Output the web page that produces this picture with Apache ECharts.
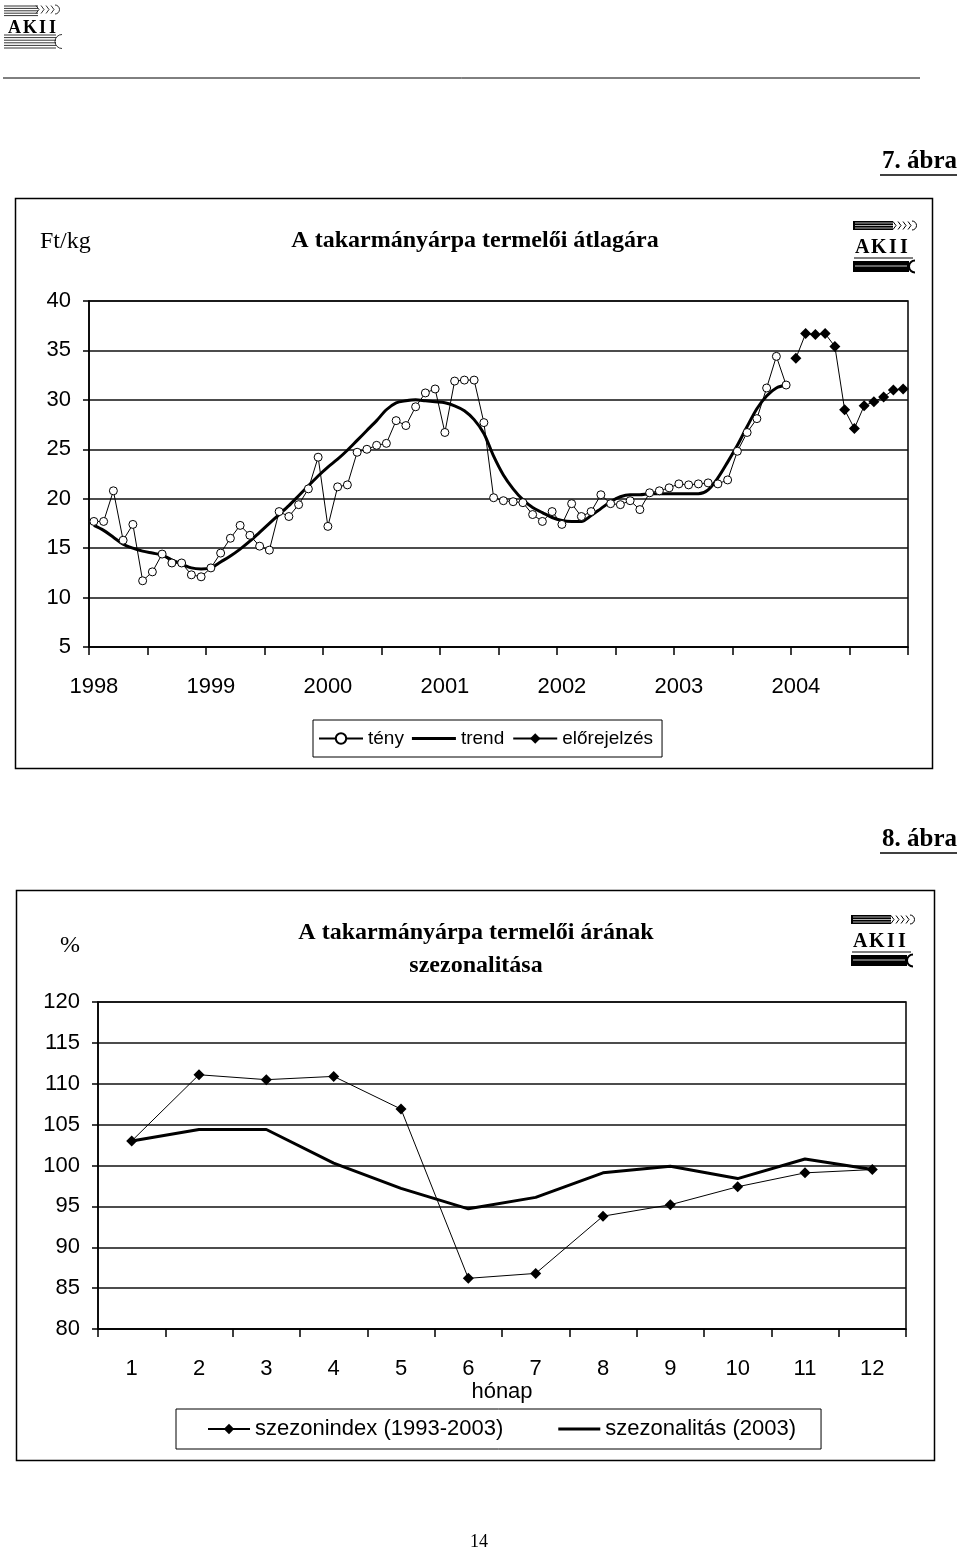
<!DOCTYPE html>
<html><head><meta charset="utf-8">
<script src="https://cdn.jsdelivr.net/npm/echarts@6/dist/echarts.min.js"></script>
<style>html,body{margin:0;padding:0;background:#fff}#c{width:960px;height:1551px}</style>
</head><body><div id="c"></div>
<script>
// ---- Chart 1 data (Ft/kg, monthly 1998-2004) ----
const years = ['1998','1999','2000','2001','2002','2003','2004'];
const teny = [17.7,17.7,20.8,15.8,17.4,11.7,12.6,14.4,13.5,13.5,12.3,12.1,
              13.0,14.5,16.0,17.3,16.3,15.2,14.8,18.7,18.2,19.4,21.0,24.2,
              17.2,21.2,21.4,24.7,25.0,25.4,25.6,27.9,27.4,29.3,30.7,31.1,
              26.7,31.9,32.0,32.0,27.7,20.1,19.8,19.7,19.6,18.4,17.7,18.7,
              17.4,19.5,18.2,18.7,20.4,19.5,19.4,19.8,18.9,20.6,20.8,21.1,
              21.5,21.4,21.5,21.6,21.5,21.9,24.8,26.7,28.1,31.2,34.4,31.5];
const trend = [17.3,16.8,16.1,15.4,15.0,14.7,14.5,14.3,13.8,13.4,13.0,12.9,
               13.0,13.6,14.2,14.9,15.7,16.6,17.5,18.4,19.3,20.3,21.3,22.3,
               23.2,24.0,24.9,25.9,26.9,27.9,29.0,29.7,29.9,30.0,29.9,29.8,
               29.7,29.4,28.9,28.0,26.6,24.3,22.4,21.0,19.9,19.1,18.6,18.1,
               17.8,17.7,17.7,18.3,19.0,19.7,20.2,20.4,20.4,20.5,20.5,20.5,
               20.5,20.5,20.5,20.9,22.1,23.7,25.4,27.3,29.1,30.4,31.2,31.5];
const elorejelzes = [34.2,36.7,36.6,36.7,35.4,29.0,27.1,29.4,29.8,30.3,31.0,31.1];

// ---- Chart 2 data (% , months) ----
const honapok = ['1','2','3','4','5','6','7','8','9','10','11','12'];
const szezonindex = [103.0,111.1,110.5,110.9,106.9,86.2,86.8,93.8,95.2,97.4,99.1,99.5];
const szezonalitas = [103.0,104.4,104.4,100.3,97.2,94.7,96.1,99.1,99.9,98.4,100.8,99.5];

const months = [];
years.forEach(y => { for (let m = 1; m <= 12; m++) months.push(y + '.' + String(m).padStart(2, '0')); });
const pad = (arr, before, total) => new Array(before).fill('-').concat(arr).concat(new Array(total - before - arr.length).fill('-'));
const tenyData = pad(teny, 0, months.length);
const trendData = pad(trend, 0, months.length);
const eloData = pad(elorejelzes, months.length - elorejelzes.length, months.length);

const SANS = '"Liberation Sans", Arial, sans-serif';
const SERIF = '"Liberation Serif", "Times New Roman", serif';
const BLK = '#000';
const THICK_ICON = 'path://M0,0H44V3.2H0Z';

function logo(x, y, dark) {
  const els = [];
  const lw = dark ? 1 : 0.8;
  if (dark) {
    els.push({type:'rect', shape:{x:x, y:y+1, width:40, height:9}, style:{fill:BLK}});
    for (let k = 0; k < 3; k++) els.push({type:'line', shape:{x1:x+2, y1:y+3+k*2.5, x2:x+40, y2:y+3+k*2.5}, style:{stroke:'#fff', lineWidth:0.7}});
  } else {
    for (let k = 0; k < 5; k++) els.push({type:'line', shape:{x1:x, y1:y+2+k*2.4, x2:x+34, y2:y+2+k*2.4}, style:{stroke:BLK, lineWidth:lw}});
  }
  for (let k = 0; k < 4; k++) els.push({type:'polyline', shape:{points:[[x+(dark?40:32)+k*5, y+1.5],[x+(dark?43:35)+k*5, y+5.5],[x+(dark?40:32)+k*5, y+9.5]]}, style:{stroke:BLK, fill:null, lineWidth:lw}});
  els.push({type:'arc', shape:{cx:x+(dark?59:51), cy:y+5.5, r:4.5, startAngle:-Math.PI/2, endAngle:Math.PI/2, clockwise:true}, style:{stroke:BLK, fill:null, lineWidth:lw}});
  const fs = dark ? 20 : 18;
  const ty = dark ? y+28 : y+24;
  const letters = ['A','K','I','I'];
  const offs = dark ? [2,18,36,47] : [4,19,35,45];
  letters.forEach((l, i) => els.push({type:'text', style:{text:l, x:x+offs[i], y:ty, font:'bold '+fs+'px '+SERIF, fill:BLK, textVerticalAlign:'middle'}}));
  if (dark) {
    els.push({type:'line', shape:{x1:x+1, y1:y+38, x2:x+60, y2:y+38}, style:{stroke:BLK, lineWidth:1.2}});
    els.push({type:'rect', shape:{x:x, y:y+41, width:56, height:11}, style:{fill:BLK}});
    els.push({type:'line', shape:{x1:x+2, y1:y+46, x2:x+54, y2:y+46}, style:{stroke:'#fff', lineWidth:0.8}});
    els.push({type:'arc', shape:{cx:x+62, cy:y+46.5, r:6, startAngle:Math.PI/2, endAngle:Math.PI*1.5, clockwise:true}, style:{stroke:BLK, fill:null, lineWidth:2}});
  } else {
    for (let k = 0; k < 6; k++) els.push({type:'line', shape:{x1:x, y1:y+31+k*2.6, x2:x+52, y2:y+31+k*2.6}, style:{stroke:BLK, lineWidth:lw}});
    els.push({type:'arc', shape:{cx:x+58, cy:y+37.5, r:7, startAngle:Math.PI/2, endAngle:Math.PI*1.5, clockwise:true}, style:{stroke:BLK, fill:null, lineWidth:lw}});
  }
  return els;
}

const graphics = [].concat(
  logo(4, 4, false),
  [{type:'line', shape:{x1:3, y1:78, x2:920, y2:78}, style:{stroke:BLK, lineWidth:1}}],
  [{type:'text', style:{text:'7. ábra', x:957, y:162, font:'bold 25px '+SERIF, fill:BLK, textAlign:'right', textVerticalAlign:'middle'}},
   {type:'line', shape:{x1:880, y1:175, x2:957, y2:175}, style:{stroke:BLK, lineWidth:1.5}},
   {type:'rect', shape:{x:15.5, y:198.5, width:917, height:570}, style:{fill:'rgba(0,0,0,0)', stroke:BLK, lineWidth:1.5}},
   {type:'text', style:{text:'Ft/kg', x:40, y:242, font:'24px '+SERIF, fill:BLK, textVerticalAlign:'middle'}},
   {type:'text', style:{text:'A takarmányárpa termelői átlagára', x:475, y:241, font:'bold 24px '+SERIF, fill:BLK, textAlign:'center', textVerticalAlign:'middle'}}],
  logo(853, 220, true),
  [{type:'text', style:{text:'8. ábra', x:957, y:840, font:'bold 25px '+SERIF, fill:BLK, textAlign:'right', textVerticalAlign:'middle'}},
   {type:'line', shape:{x1:880, y1:853, x2:957, y2:853}, style:{stroke:BLK, lineWidth:1.5}},
   {type:'rect', shape:{x:16.5, y:890.5, width:918, height:570}, style:{fill:'rgba(0,0,0,0)', stroke:BLK, lineWidth:1.5}},
   {type:'text', style:{text:'%', x:70, y:946, font:'24px '+SERIF, fill:BLK, textAlign:'center', textVerticalAlign:'middle'}},
   {type:'text', style:{text:'A takarmányárpa termelői árának', x:476, y:933, font:'bold 24px '+SERIF, fill:BLK, textAlign:'center', textVerticalAlign:'middle'}},
   {type:'text', style:{text:'szezonalitása', x:476, y:966, font:'bold 24px '+SERIF, fill:BLK, textAlign:'center', textVerticalAlign:'middle'}}],
  logo(851, 914, true),
  [{type:'text', style:{text:'14', x:479, y:1542, font:'18px '+SERIF, fill:BLK, textAlign:'center', textVerticalAlign:'middle'}}]
);

const axisLine = {show:true, lineStyle:{color:BLK, width:1.5}};
const chart = echarts.init(document.getElementById('c'), null, {renderer:'canvas'});
chart.setOption({
  animation:false,
  backgroundColor:'#fff',
  graphic: graphics,
  grid:[
    {left:89, right:52, top:301, height:346, show:true, borderColor:BLK, borderWidth:1.5, backgroundColor:'rgba(0,0,0,0)'},
    {left:98, right:54, top:1002, height:327, show:true, borderColor:BLK, borderWidth:1.5, backgroundColor:'rgba(0,0,0,0)'}
  ],
  legend:[
    {data:['tény', {name:'trend', icon:THICK_ICON}, 'előrejelzés'], left:313, top:720, orient:'horizontal', padding:[9,9,9,5], itemGap:8, itemWidth:44, itemHeight:13,
     borderColor:BLK, borderWidth:1, textStyle:{fontFamily:SANS, fontSize:19, color:BLK}},
    {data:['szezonindex (1993-2003)', {name:'szezonalitás (2003)', icon:THICK_ICON}], left:176, top:1409, orient:'horizontal', padding:[9,25,9,31], itemGap:55, itemWidth:42, itemHeight:13,
     borderColor:BLK, borderWidth:1, textStyle:{fontFamily:SANS, fontSize:22, color:BLK}}
  ],
  xAxis:[
    {type:'category', gridIndex:0, data:months, boundaryGap:true, axisLine:axisLine,
     axisTick:{show:true, interval:5, length:8, lineStyle:{color:BLK, width:1.5}},
     axisLabel:{interval:11, formatter:v => v.split('.')[0], fontFamily:SANS, fontSize:22, color:BLK, margin:29},
     splitLine:{show:false}},
    {type:'category', gridIndex:1, data:honapok, boundaryGap:true, axisLine:axisLine,
     axisTick:{show:true, interval:0, length:8, lineStyle:{color:BLK, width:1.5}},
     axisLabel:{interval:0, fontFamily:SANS, fontSize:22, color:BLK, margin:29},
     name:'hónap', nameLocation:'middle', nameGap:50, nameTextStyle:{fontFamily:SANS, fontSize:22, color:BLK},
     splitLine:{show:false}}
  ],
  yAxis:[
    {type:'value', gridIndex:0, min:5, max:40, interval:5, axisLine:axisLine,
     axisTick:{show:true, length:6, lineStyle:{color:BLK, width:1.5}},
     axisLabel:{fontFamily:SANS, fontSize:22, color:BLK, margin:18},
     splitLine:{show:true, lineStyle:{color:'#111', width:1.5}}},
    {type:'value', gridIndex:1, min:80, max:120, interval:5, axisLine:axisLine,
     axisTick:{show:true, length:6, lineStyle:{color:BLK, width:1.5}},
     axisLabel:{fontFamily:SANS, fontSize:22, color:BLK, margin:18},
     splitLine:{show:true, lineStyle:{color:'#111', width:1.5}}}
  ],
  series:[
    {name:'tény', type:'line', xAxisIndex:0, yAxisIndex:0, data:tenyData, symbol:'circle', symbolSize:8, showAllSymbol:true,
     itemStyle:{color:'#fff', borderColor:BLK, borderWidth:1}, lineStyle:{color:BLK, width:1}, z:3},
    {name:'trend', type:'line', xAxisIndex:0, yAxisIndex:0, data:trendData, symbol:'none', smooth:0.3,
     itemStyle:{color:BLK}, lineStyle:{color:BLK, width:3}, z:2},
    {name:'előrejelzés', type:'line', xAxisIndex:0, yAxisIndex:0, data:eloData, symbol:'diamond', symbolSize:11, showAllSymbol:true,
     itemStyle:{color:BLK}, lineStyle:{color:BLK, width:1}, z:3},
    {name:'szezonindex (1993-2003)', type:'line', xAxisIndex:1, yAxisIndex:1, data:szezonindex, symbol:'diamond', symbolSize:11,
     itemStyle:{color:BLK}, lineStyle:{color:BLK, width:1}, z:3},
    {name:'szezonalitás (2003)', type:'line', xAxisIndex:1, yAxisIndex:1, data:szezonalitas, symbol:'none',
     itemStyle:{color:BLK}, lineStyle:{color:BLK, width:3}, z:2}
  ]
});
</script>
</body></html>
